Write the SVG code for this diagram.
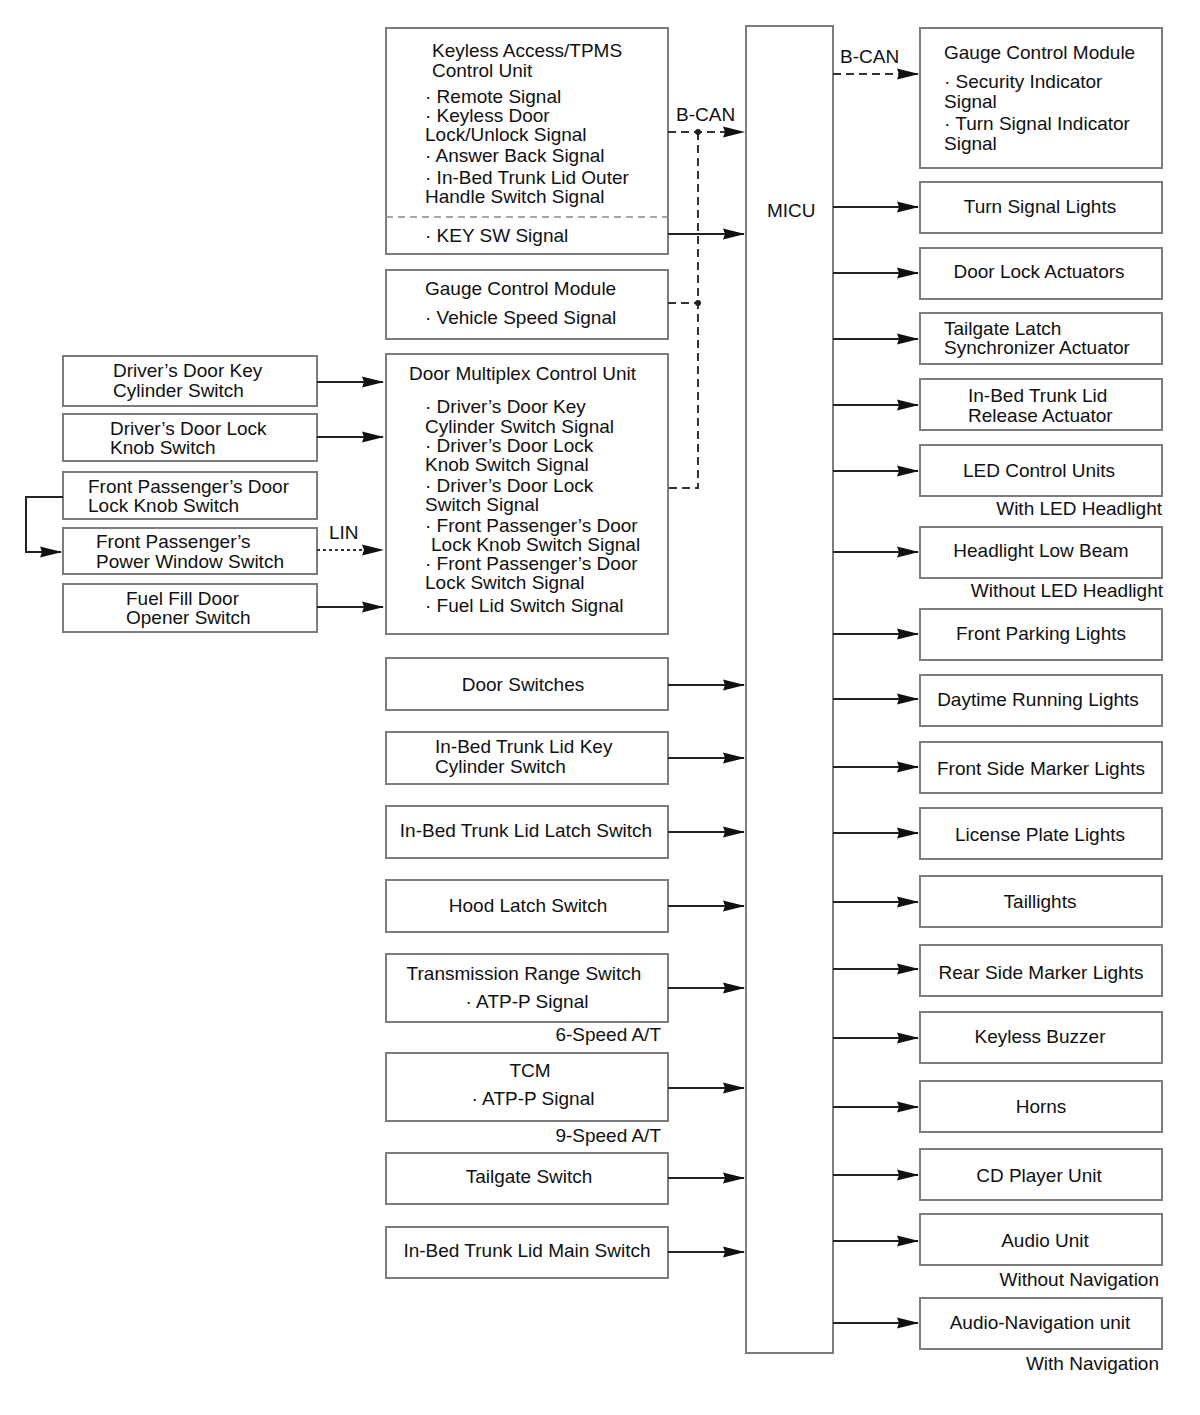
<svg xmlns="http://www.w3.org/2000/svg" width="1200" height="1415" viewBox="0 0 1200 1415">
<defs>
<style>
.box{fill:#fff;stroke:#7d7d7d;stroke-width:2}
.t{font-family:"Liberation Sans",Arial,sans-serif;font-size:19px;fill:#111}
.c{text-anchor:middle}
.r{text-anchor:end}
.ln{fill:none;stroke:#222;stroke-width:2}
.dash{fill:none;stroke:#333;stroke-width:2;stroke-dasharray:8 5}
.dot{fill:none;stroke:#333;stroke-width:2;stroke-dasharray:3 3}
.sep{fill:none;stroke:#8a8a8a;stroke-width:1.5;stroke-dasharray:7 5}
</style>
<marker id="ah" markerUnits="userSpaceOnUse" markerWidth="22" markerHeight="12" refX="21" refY="6" orient="auto">
<path d="M0,0.5 L22,6 L0,11.5 L2,6 z" fill="#111"/>
</marker>
</defs>
<rect width="1200" height="1415" fill="#fff"/>

<g id="micu">
<rect class="box" x="746" y="26" width="87" height="1327"/>
<text class="t" x="767" y="217">MICU</text>
</g>

<g id="keyless">
<rect class="box" x="386" y="28" width="282" height="226"/>
<line class="sep" x1="386" y1="217" x2="668" y2="217"/>
<text class="t" x="432" y="57">Keyless Access/TPMS</text>
<text class="t" x="432" y="77">Control Unit</text>
<text class="t" x="425" y="103">· Remote Signal</text>
<text class="t" x="425" y="122">· Keyless Door</text>
<text class="t" x="425" y="141">Lock/Unlock Signal</text>
<text class="t" x="425" y="162">· Answer Back Signal</text>
<text class="t" x="425" y="184">· In-Bed Trunk Lid Outer</text>
<text class="t" x="425" y="203">Handle Switch Signal</text>
<text class="t" x="425" y="242">· KEY SW Signal</text>
</g>

<g id="gauge-in">
<rect class="box" x="386" y="270" width="282" height="69"/>
<text class="t" x="425" y="295">Gauge Control Module</text>
<text class="t" x="425" y="324">· Vehicle Speed Signal</text>
</g>

<g id="door-multiplex">
<rect class="box" x="386" y="354" width="282" height="280"/>
<text class="t" x="409" y="380">Door Multiplex Control Unit</text>
<text class="t" x="425" y="413">· Driver’s Door Key</text>
<text class="t" x="425" y="433">Cylinder Switch Signal</text>
<text class="t" x="425" y="452">· Driver’s Door Lock</text>
<text class="t" x="425" y="471">Knob Switch Signal</text>
<text class="t" x="425" y="492">· Driver’s Door Lock</text>
<text class="t" x="425" y="511">Switch Signal</text>
<text class="t" x="425" y="532">· Front Passenger’s Door</text>
<text class="t" x="431" y="551">Lock Knob Switch Signal</text>
<text class="t" x="425" y="570">· Front Passenger’s Door</text>
<text class="t" x="425" y="589">Lock Switch Signal</text>
<text class="t" x="425" y="612">· Fuel Lid Switch Signal</text>
</g>

<g id="drv-key-cyl">
<rect class="box" x="63" y="356" width="254" height="50"/>
<text class="t" x="113" y="377">Driver’s Door Key</text>
<text class="t" x="113" y="397">Cylinder Switch</text>
</g>
<g id="drv-lock-knob">
<rect class="box" x="63" y="414" width="254" height="47"/>
<text class="t" x="110" y="435">Driver’s Door Lock</text>
<text class="t" x="110" y="454">Knob Switch</text>
</g>
<g id="fp-lock-knob">
<rect class="box" x="63" y="472" width="254" height="47"/>
<text class="t" x="88" y="493">Front Passenger’s Door</text>
<text class="t" x="88" y="512">Lock Knob Switch</text>
</g>
<g id="fp-power-window">
<rect class="box" x="63" y="528" width="254" height="46"/>
<text class="t" x="96" y="548">Front Passenger’s</text>
<text class="t" x="96" y="568">Power Window Switch</text>
</g>
<g id="fuel-fill">
<rect class="box" x="63" y="584" width="254" height="48"/>
<text class="t" x="126" y="605">Fuel Fill Door</text>
<text class="t" x="126" y="624">Opener Switch</text>
</g>

<g id="door-switches">
<rect class="box" x="386" y="658" width="282" height="52"/>
<text class="t c" x="523" y="691">Door Switches</text>
</g>
<g id="trunk-key-cyl">
<rect class="box" x="386" y="732" width="282" height="52"/>
<text class="t" x="435" y="753">In-Bed Trunk Lid Key</text>
<text class="t" x="435" y="773">Cylinder Switch</text>
</g>
<g id="trunk-latch">
<rect class="box" x="386" y="806" width="282" height="52"/>
<text class="t c" x="526" y="837">In-Bed Trunk Lid Latch Switch</text>
</g>
<g id="hood-latch">
<rect class="box" x="386" y="880" width="282" height="52"/>
<text class="t c" x="528" y="912">Hood Latch Switch</text>
</g>
<g id="trans-range">
<rect class="box" x="386" y="954" width="282" height="68"/>
<text class="t c" x="524" y="980">Transmission Range Switch</text>
<text class="t c" x="527" y="1008">· ATP-P Signal</text>
<text class="t r" x="661" y="1041">6-Speed A/T</text>
</g>
<g id="tcm">
<rect class="box" x="386" y="1053" width="282" height="68"/>
<text class="t c" x="530" y="1077">TCM</text>
<text class="t c" x="533" y="1105">· ATP-P Signal</text>
<text class="t r" x="661" y="1142">9-Speed A/T</text>
</g>
<g id="tailgate-sw">
<rect class="box" x="386" y="1153" width="282" height="51"/>
<text class="t c" x="529" y="1183">Tailgate Switch</text>
</g>
<g id="trunk-main">
<rect class="box" x="386" y="1227" width="282" height="51"/>
<text class="t c" x="527" y="1257">In-Bed Trunk Lid Main Switch</text>
</g>

<g id="gauge-out">
<rect class="box" x="920" y="28" width="242" height="140"/>
<text class="t" x="944" y="59">Gauge Control Module</text>
<text class="t" x="944" y="88">· Security Indicator</text>
<text class="t" x="944" y="108">Signal</text>
<text class="t" x="944" y="130">· Turn Signal Indicator</text>
<text class="t" x="944" y="150">Signal</text>
</g>
<g id="turn-lights">
<rect class="box" x="920" y="182" width="242" height="51"/>
<text class="t c" x="1040" y="213">Turn Signal Lights</text>
</g>
<g id="door-lock-act">
<rect class="box" x="920" y="248" width="242" height="51"/>
<text class="t c" x="1039" y="278">Door Lock Actuators</text>
</g>
<g id="tailgate-latch">
<rect class="box" x="920" y="313" width="242" height="51"/>
<text class="t" x="944" y="335">Tailgate Latch</text>
<text class="t" x="944" y="354">Synchronizer Actuator</text>
</g>
<g id="trunk-release">
<rect class="box" x="920" y="379" width="242" height="51"/>
<text class="t" x="968" y="402">In-Bed Trunk Lid</text>
<text class="t" x="968" y="422">Release Actuator</text>
</g>
<g id="led-ctrl">
<rect class="box" x="920" y="445" width="242" height="51"/>
<text class="t c" x="1039" y="477">LED Control Units</text>
<text class="t r" x="1162" y="515">With LED Headlight</text>
</g>
<g id="low-beam">
<rect class="box" x="920" y="527" width="242" height="51"/>
<text class="t c" x="1041" y="557">Headlight Low Beam</text>
<text class="t r" x="1163" y="597">Without LED Headlight</text>
</g>
<g id="front-parking">
<rect class="box" x="920" y="609" width="242" height="51"/>
<text class="t c" x="1041" y="640">Front Parking Lights</text>
</g>
<g id="drl">
<rect class="box" x="920" y="675" width="242" height="51"/>
<text class="t c" x="1038" y="706">Daytime Running Lights</text>
</g>
<g id="front-side-marker">
<rect class="box" x="920" y="742" width="242" height="51"/>
<text class="t c" x="1041" y="775">Front Side Marker Lights</text>
</g>
<g id="license">
<rect class="box" x="920" y="808" width="242" height="51"/>
<text class="t c" x="1040" y="841">License Plate Lights</text>
</g>
<g id="taillights">
<rect class="box" x="920" y="876" width="242" height="51"/>
<text class="t c" x="1040" y="908">Taillights</text>
</g>
<g id="rear-side-marker">
<rect class="box" x="920" y="945" width="242" height="51"/>
<text class="t c" x="1041" y="979">Rear Side Marker Lights</text>
</g>
<g id="keyless-buzzer">
<rect class="box" x="920" y="1012" width="242" height="51"/>
<text class="t c" x="1040" y="1043">Keyless Buzzer</text>
</g>
<g id="horns">
<rect class="box" x="920" y="1081" width="242" height="51"/>
<text class="t c" x="1041" y="1113">Horns</text>
</g>
<g id="cd-player">
<rect class="box" x="920" y="1149" width="242" height="51"/>
<text class="t c" x="1039" y="1182">CD Player Unit</text>
</g>
<g id="audio-unit">
<rect class="box" x="920" y="1214" width="242" height="51"/>
<text class="t c" x="1045" y="1247">Audio Unit</text>
<text class="t r" x="1159" y="1286">Without Navigation</text>
</g>
<g id="audio-nav">
<rect class="box" x="920" y="1298" width="242" height="51"/>
<text class="t c" x="1040" y="1329">Audio-Navigation unit</text>
<text class="t r" x="1159" y="1370">With Navigation</text>
</g>

<g id="connectors">
<line class="dash" x1="668" y1="132" x2="744" y2="132" marker-end="url(#ah)"/>
<path class="dash" d="M698,132 V488 H668"/>
<line class="dash" x1="668" y1="303" x2="698" y2="303"/>
<circle cx="698" cy="132" r="3" fill="#222"/>
<circle cx="698" cy="303" r="3" fill="#222"/>
<text class="t" x="676" y="121">B-CAN</text>
<line class="ln" x1="668" y1="234" x2="744" y2="234" marker-end="url(#ah)"/>

<line class="ln" x1="317" y1="382" x2="383" y2="382" marker-end="url(#ah)"/>
<line class="ln" x1="317" y1="437" x2="383" y2="437" marker-end="url(#ah)"/>
<path class="ln" d="M63,497 H26 V552 H61" marker-end="url(#ah)"/>
<line class="dot" x1="317" y1="550" x2="383" y2="550" marker-end="url(#ah)"/>
<text class="t" x="329" y="539">LIN</text>
<line class="ln" x1="317" y1="607" x2="383" y2="607" marker-end="url(#ah)"/>

<line class="ln" x1="668" y1="685" x2="744" y2="685" marker-end="url(#ah)"/>
<line class="ln" x1="668" y1="758" x2="744" y2="758" marker-end="url(#ah)"/>
<line class="ln" x1="668" y1="832" x2="744" y2="832" marker-end="url(#ah)"/>
<line class="ln" x1="668" y1="906" x2="744" y2="906" marker-end="url(#ah)"/>
<line class="ln" x1="668" y1="988" x2="744" y2="988" marker-end="url(#ah)"/>
<line class="ln" x1="668" y1="1088" x2="744" y2="1088" marker-end="url(#ah)"/>
<line class="ln" x1="668" y1="1178" x2="744" y2="1178" marker-end="url(#ah)"/>
<line class="ln" x1="668" y1="1252" x2="744" y2="1252" marker-end="url(#ah)"/>

<line class="dash" x1="833" y1="74" x2="918" y2="74" marker-end="url(#ah)"/>
<text class="t" x="840" y="63">B-CAN</text>
<line class="ln" x1="833" y1="207" x2="918" y2="207" marker-end="url(#ah)"/>
<line class="ln" x1="833" y1="273" x2="918" y2="273" marker-end="url(#ah)"/>
<line class="ln" x1="833" y1="339" x2="918" y2="339" marker-end="url(#ah)"/>
<line class="ln" x1="833" y1="405" x2="918" y2="405" marker-end="url(#ah)"/>
<line class="ln" x1="833" y1="471" x2="918" y2="471" marker-end="url(#ah)"/>
<line class="ln" x1="833" y1="552" x2="918" y2="552" marker-end="url(#ah)"/>
<line class="ln" x1="833" y1="634" x2="918" y2="634" marker-end="url(#ah)"/>
<line class="ln" x1="833" y1="699" x2="918" y2="699" marker-end="url(#ah)"/>
<line class="ln" x1="833" y1="767" x2="918" y2="767" marker-end="url(#ah)"/>
<line class="ln" x1="833" y1="833" x2="918" y2="833" marker-end="url(#ah)"/>
<line class="ln" x1="833" y1="902" x2="918" y2="902" marker-end="url(#ah)"/>
<line class="ln" x1="833" y1="969" x2="918" y2="969" marker-end="url(#ah)"/>
<line class="ln" x1="833" y1="1038" x2="918" y2="1038" marker-end="url(#ah)"/>
<line class="ln" x1="833" y1="1107" x2="918" y2="1107" marker-end="url(#ah)"/>
<line class="ln" x1="833" y1="1175" x2="918" y2="1175" marker-end="url(#ah)"/>
<line class="ln" x1="833" y1="1241" x2="918" y2="1241" marker-end="url(#ah)"/>
<line class="ln" x1="833" y1="1323" x2="918" y2="1323" marker-end="url(#ah)"/>
</g>
</svg>
